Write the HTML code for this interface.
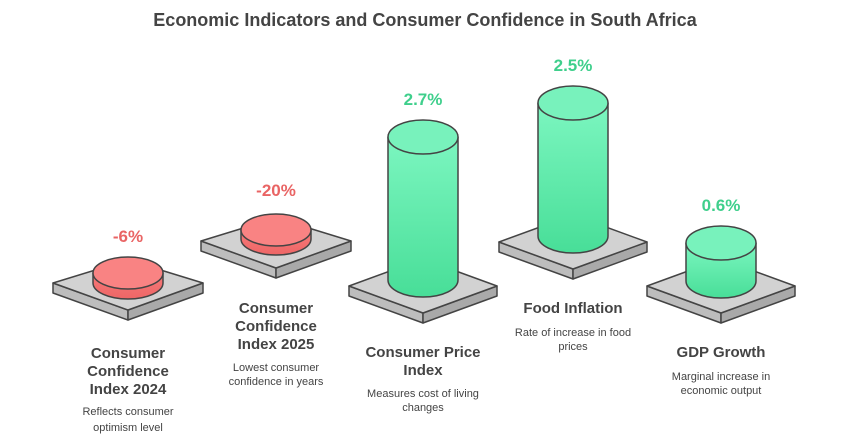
<!DOCTYPE html>
<html><head><meta charset="utf-8"><style>
body{margin:0;background:#fff;}
svg{display:block;font-family:"Liberation Sans",Arial,sans-serif;}
</style></head><body>
<svg width="850" height="444" viewBox="0 0 850 444">
<defs>
<linearGradient id="g" x1="0" y1="0" x2="0" y2="1"><stop offset="0" stop-color="#7cf6c0"/><stop offset="1" stop-color="#48de98"/></linearGradient>
<linearGradient id="r" x1="0" y1="0" x2="0" y2="1"><stop offset="0" stop-color="#f77a7a"/><stop offset="1" stop-color="#ee6666"/></linearGradient>
</defs>
<text x="425" y="26" text-anchor="middle" font-size="18" font-weight="bold" fill="#444">Economic Indicators and Consumer Confidence in South Africa</text>
<g stroke="#444" stroke-width="1.5" stroke-linejoin="round">
<polygon points="53,283 128,310 128,320 53,293" fill="#bdbdbd"/>
<polygon points="203,283 128,310 128,320 203,293" fill="#a9a9a9"/>
<polygon points="53,283 128,260 203,283 128,310" fill="#d2d2d2"/>
<path d="M93,273 L93,283 A35 16 0 0 0 163,283 L163,273 Z" fill="url(#r)"/>
<ellipse cx="128" cy="273" rx="35" ry="16" fill="#f98383"/>
<polygon points="201,241 276,268 276,278 201,251" fill="#bdbdbd"/>
<polygon points="351,241 276,268 276,278 351,251" fill="#a9a9a9"/>
<polygon points="201,241 276,218 351,241 276,268" fill="#d2d2d2"/>
<path d="M241,230 L241,239 A35 16 0 0 0 311,239 L311,230 Z" fill="url(#r)"/>
<ellipse cx="276" cy="230" rx="35" ry="16" fill="#f98383"/>
<polygon points="349,286 423,313 423,323 349,296" fill="#bdbdbd"/>
<polygon points="497,286 423,313 423,323 497,296" fill="#a9a9a9"/>
<polygon points="349,286 423,259 497,286 423,313" fill="#d2d2d2"/>
<path d="M388,137 L388,280 A35 17 0 0 0 458,280 L458,137 Z" fill="url(#g)"/>
<ellipse cx="423" cy="137" rx="35" ry="17" fill="#78f2bc"/>
<polygon points="499,242 573,269 573,279 499,252" fill="#bdbdbd"/>
<polygon points="647,242 573,269 573,279 647,252" fill="#a9a9a9"/>
<polygon points="499,242 573,215 647,242 573,269" fill="#d2d2d2"/>
<path d="M538,103 L538,236 A35 17 0 0 0 608,236 L608,103 Z" fill="url(#g)"/>
<ellipse cx="573" cy="103" rx="35" ry="17" fill="#78f2bc"/>
<polygon points="647,286 721,313 721,323 647,296" fill="#bdbdbd"/>
<polygon points="795,286 721,313 721,323 795,296" fill="#a9a9a9"/>
<polygon points="647,286 721,259 795,286 721,313" fill="#d2d2d2"/>
<path d="M686,243 L686,281 A35 17 0 0 0 756,281 L756,243 Z" fill="url(#g)"/>
<ellipse cx="721" cy="243" rx="35" ry="17" fill="#78f2bc"/>
</g>
<g font-size="17" font-weight="bold" text-anchor="middle">
<text x="128" y="242" fill="#e96464">-6%</text>
<text x="276" y="196" fill="#e96464">-20%</text>
<text x="423" y="105" fill="#3fcf8c">2.7%</text>
<text x="573" y="71" fill="#3fcf8c">2.5%</text>
<text x="721" y="211" fill="#3fcf8c">0.6%</text>
</g>
<g font-size="15" font-weight="bold" text-anchor="middle" fill="#444">
<text x="128" y="358">Consumer</text><text x="128" y="376">Confidence</text><text x="128" y="394">Index 2024</text>
<text x="276" y="313">Consumer</text><text x="276" y="331">Confidence</text><text x="276" y="349">Index 2025</text>
<text x="423" y="357">Consumer Price</text><text x="423" y="375">Index</text>
<text x="573" y="313">Food Inflation</text>
<text x="721" y="357">GDP Growth</text>
</g>
<g font-size="11" text-anchor="middle" fill="#444">
<text x="128" y="415">Reflects consumer</text><text x="128" y="431">optimism level</text>
<text x="276" y="371">Lowest consumer</text><text x="276" y="385">confidence in years</text>
<text x="423" y="397">Measures cost of living</text><text x="423" y="411">changes</text>
<text x="573" y="336">Rate of increase in food</text><text x="573" y="350">prices</text>
<text x="721" y="380">Marginal increase in</text><text x="721" y="394">economic output</text>
</g>
</svg>
</body></html>
